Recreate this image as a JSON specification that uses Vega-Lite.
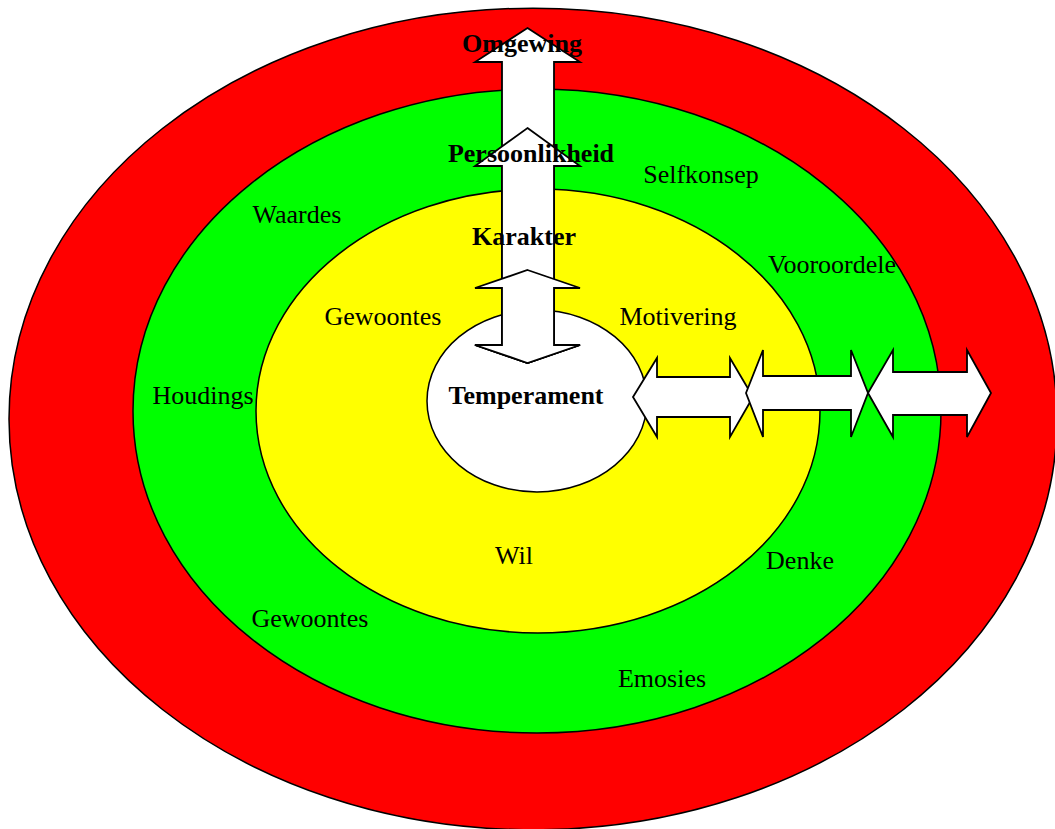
{
  "$schema": "https://vega.github.io/schema/vega-lite/v6.json",
  "width": 1055,
  "height": 829,
  "autosize": "none",
  "padding": 0,
  "background": "white",
  "view": {"stroke": null},
  "config": {"text": {"font": "Liberation Serif", "fontSize": 26, "color": "black"}},
  "datasets": {
    "rings": [
      {"ring": "Omgewing", "level": 1, "cx": 533, "cy": 419, "rx": 524},
      {"ring": "Persoonlikheid", "level": 2, "cx": 537, "cy": 411, "rx": 404},
      {"ring": "Karakter", "level": 3, "cx": 538, "cy": 411, "rx": 282},
      {"ring": "Temperament", "level": 4, "cx": 537, "cy": 401, "rx": 110}
    ],
    "arrows": [
      {"arrow": "a1", "k": 0, "x": 527.5, "y": 28},
      {"arrow": "a1", "k": 1, "x": 580, "y": 62},
      {"arrow": "a1", "k": 2, "x": 554, "y": 62},
      {"arrow": "a1", "k": 3, "x": 554, "y": 345},
      {"arrow": "a1", "k": 4, "x": 580, "y": 345},
      {"arrow": "a1", "k": 5, "x": 527.5, "y": 363},
      {"arrow": "a1", "k": 6, "x": 475, "y": 345},
      {"arrow": "a1", "k": 7, "x": 502, "y": 345},
      {"arrow": "a1", "k": 8, "x": 502, "y": 62},
      {"arrow": "a1", "k": 9, "x": 475, "y": 62},
      {"arrow": "a2", "k": 0, "x": 527.5, "y": 128},
      {"arrow": "a2", "k": 1, "x": 580, "y": 166},
      {"arrow": "a2", "k": 2, "x": 554, "y": 166},
      {"arrow": "a2", "k": 3, "x": 554, "y": 345},
      {"arrow": "a2", "k": 4, "x": 580, "y": 345},
      {"arrow": "a2", "k": 5, "x": 527.5, "y": 363},
      {"arrow": "a2", "k": 6, "x": 475, "y": 345},
      {"arrow": "a2", "k": 7, "x": 502, "y": 345},
      {"arrow": "a2", "k": 8, "x": 502, "y": 166},
      {"arrow": "a2", "k": 9, "x": 475, "y": 166},
      {"arrow": "a3", "k": 0, "x": 527.5, "y": 270},
      {"arrow": "a3", "k": 1, "x": 580, "y": 288},
      {"arrow": "a3", "k": 2, "x": 554, "y": 288},
      {"arrow": "a3", "k": 3, "x": 554, "y": 345},
      {"arrow": "a3", "k": 4, "x": 580, "y": 345},
      {"arrow": "a3", "k": 5, "x": 527.5, "y": 363},
      {"arrow": "a3", "k": 6, "x": 475, "y": 345},
      {"arrow": "a3", "k": 7, "x": 502, "y": 345},
      {"arrow": "a3", "k": 8, "x": 502, "y": 288},
      {"arrow": "a3", "k": 9, "x": 475, "y": 288},
      {"arrow": "h1", "k": 0, "x": 633, "y": 397},
      {"arrow": "h1", "k": 1, "x": 657, "y": 358},
      {"arrow": "h1", "k": 2, "x": 657, "y": 377},
      {"arrow": "h1", "k": 3, "x": 730, "y": 377},
      {"arrow": "h1", "k": 4, "x": 730, "y": 358},
      {"arrow": "h1", "k": 5, "x": 753, "y": 397},
      {"arrow": "h1", "k": 6, "x": 730, "y": 437},
      {"arrow": "h1", "k": 7, "x": 730, "y": 417},
      {"arrow": "h1", "k": 8, "x": 657, "y": 417},
      {"arrow": "h1", "k": 9, "x": 657, "y": 437},
      {"arrow": "h2", "k": 0, "x": 746, "y": 393},
      {"arrow": "h2", "k": 1, "x": 763, "y": 350},
      {"arrow": "h2", "k": 2, "x": 763, "y": 376},
      {"arrow": "h2", "k": 3, "x": 851, "y": 376},
      {"arrow": "h2", "k": 4, "x": 851, "y": 350},
      {"arrow": "h2", "k": 5, "x": 868, "y": 393},
      {"arrow": "h2", "k": 6, "x": 851, "y": 437},
      {"arrow": "h2", "k": 7, "x": 851, "y": 410},
      {"arrow": "h2", "k": 8, "x": 763, "y": 410},
      {"arrow": "h2", "k": 9, "x": 763, "y": 437},
      {"arrow": "h3", "k": 0, "x": 868, "y": 393},
      {"arrow": "h3", "k": 1, "x": 893, "y": 350},
      {"arrow": "h3", "k": 2, "x": 893, "y": 372},
      {"arrow": "h3", "k": 3, "x": 967, "y": 372},
      {"arrow": "h3", "k": 4, "x": 967, "y": 350},
      {"arrow": "h3", "k": 5, "x": 991, "y": 393},
      {"arrow": "h3", "k": 6, "x": 967, "y": 437},
      {"arrow": "h3", "k": 7, "x": 967, "y": 415},
      {"arrow": "h3", "k": 8, "x": 893, "y": 415},
      {"arrow": "h3", "k": 9, "x": 893, "y": 437}
    ],
    "titles": [
      {"label": "Omgewing", "x": 522, "y": 52},
      {"label": "Persoonlikheid", "x": 531, "y": 162},
      {"label": "Karakter", "x": 524, "y": 245},
      {"label": "Temperament", "x": 526, "y": 404}
    ],
    "labels": [
      {"label": "Selfkonsep", "x": 701, "y": 183},
      {"label": "Waardes", "x": 297, "y": 223},
      {"label": "Vooroordele", "x": 832, "y": 273},
      {"label": "Gewoontes", "x": 383, "y": 325},
      {"label": "Motivering", "x": 678, "y": 325},
      {"label": "Houdings", "x": 203, "y": 404},
      {"label": "Wil", "x": 514, "y": 564},
      {"label": "Denke", "x": 800, "y": 569},
      {"label": "Gewoontes", "x": 310, "y": 627},
      {"label": "Emosies", "x": 662, "y": 687}
    ]
  },
  "layer": [
    {
      "data": {"name": "rings"},
      "mark": {"type": "point", "filled": true, "opacity": 1, "stroke": "black", "strokeWidth": 1.5},
      "encoding": {
        "x": {"field": "cx", "type": "quantitative", "scale": {"domain": [0, 1055], "nice": false, "zero": false}, "axis": null},
        "y": {"field": "cy", "type": "quantitative", "scale": {"domain": [0, 829], "nice": false, "zero": false, "reverse": true}, "axis": null},
        "size": {"field": "rx", "type": "quantitative", "scale": {"type": "pow", "exponent": 2, "domain": [0, 1000], "range": [0, 4000000]}, "legend": null},
        "shape": {"field": "ring", "type": "nominal", "scale": {"domain": ["Omgewing", "Persoonlikheid", "Karakter", "Temperament"], "range": ["M-1,0A1,0.784,0,1,0,1,0A1,0.784,0,1,0,-1,0Z", "M-1,0A1,0.797,0,1,0,1,0A1,0.797,0,1,0,-1,0Z", "M-1,0A1,0.787,0,1,0,1,0A1,0.787,0,1,0,-1,0Z", "M-1,0A1,0.827,0,1,0,1,0A1,0.827,0,1,0,-1,0Z"]}, "legend": null},
        "fill": {"field": "ring", "type": "nominal", "scale": {"domain": ["Omgewing", "Persoonlikheid", "Karakter", "Temperament"], "range": ["#ff0000", "#00ff00", "#ffff00", "#ffffff"]}, "legend": null},
        "order": {"field": "level", "type": "quantitative"}
      }
    },
    {
      "data": {"name": "arrows"},
      "mark": {"type": "line", "interpolate": "linear-closed", "fill": "white", "stroke": "black", "strokeWidth": 1.8, "strokeJoin": "miter"},
      "encoding": {
        "x": {"field": "x", "type": "quantitative"},
        "y": {"field": "y", "type": "quantitative"},
        "detail": {"field": "arrow", "type": "nominal"},
        "order": {"field": "k", "type": "quantitative"}
      }
    },
    {
      "data": {"name": "labels"},
      "mark": {"type": "text", "align": "center", "baseline": "alphabetic"},
      "encoding": {
        "x": {"field": "x", "type": "quantitative"},
        "y": {"field": "y", "type": "quantitative"},
        "text": {"field": "label", "type": "nominal"}
      }
    },
    {
      "data": {"name": "titles"},
      "mark": {"type": "text", "align": "center", "baseline": "alphabetic", "fontWeight": "bold"},
      "encoding": {
        "x": {"field": "x", "type": "quantitative"},
        "y": {"field": "y", "type": "quantitative"},
        "text": {"field": "label", "type": "nominal"}
      }
    }
  ]
}
